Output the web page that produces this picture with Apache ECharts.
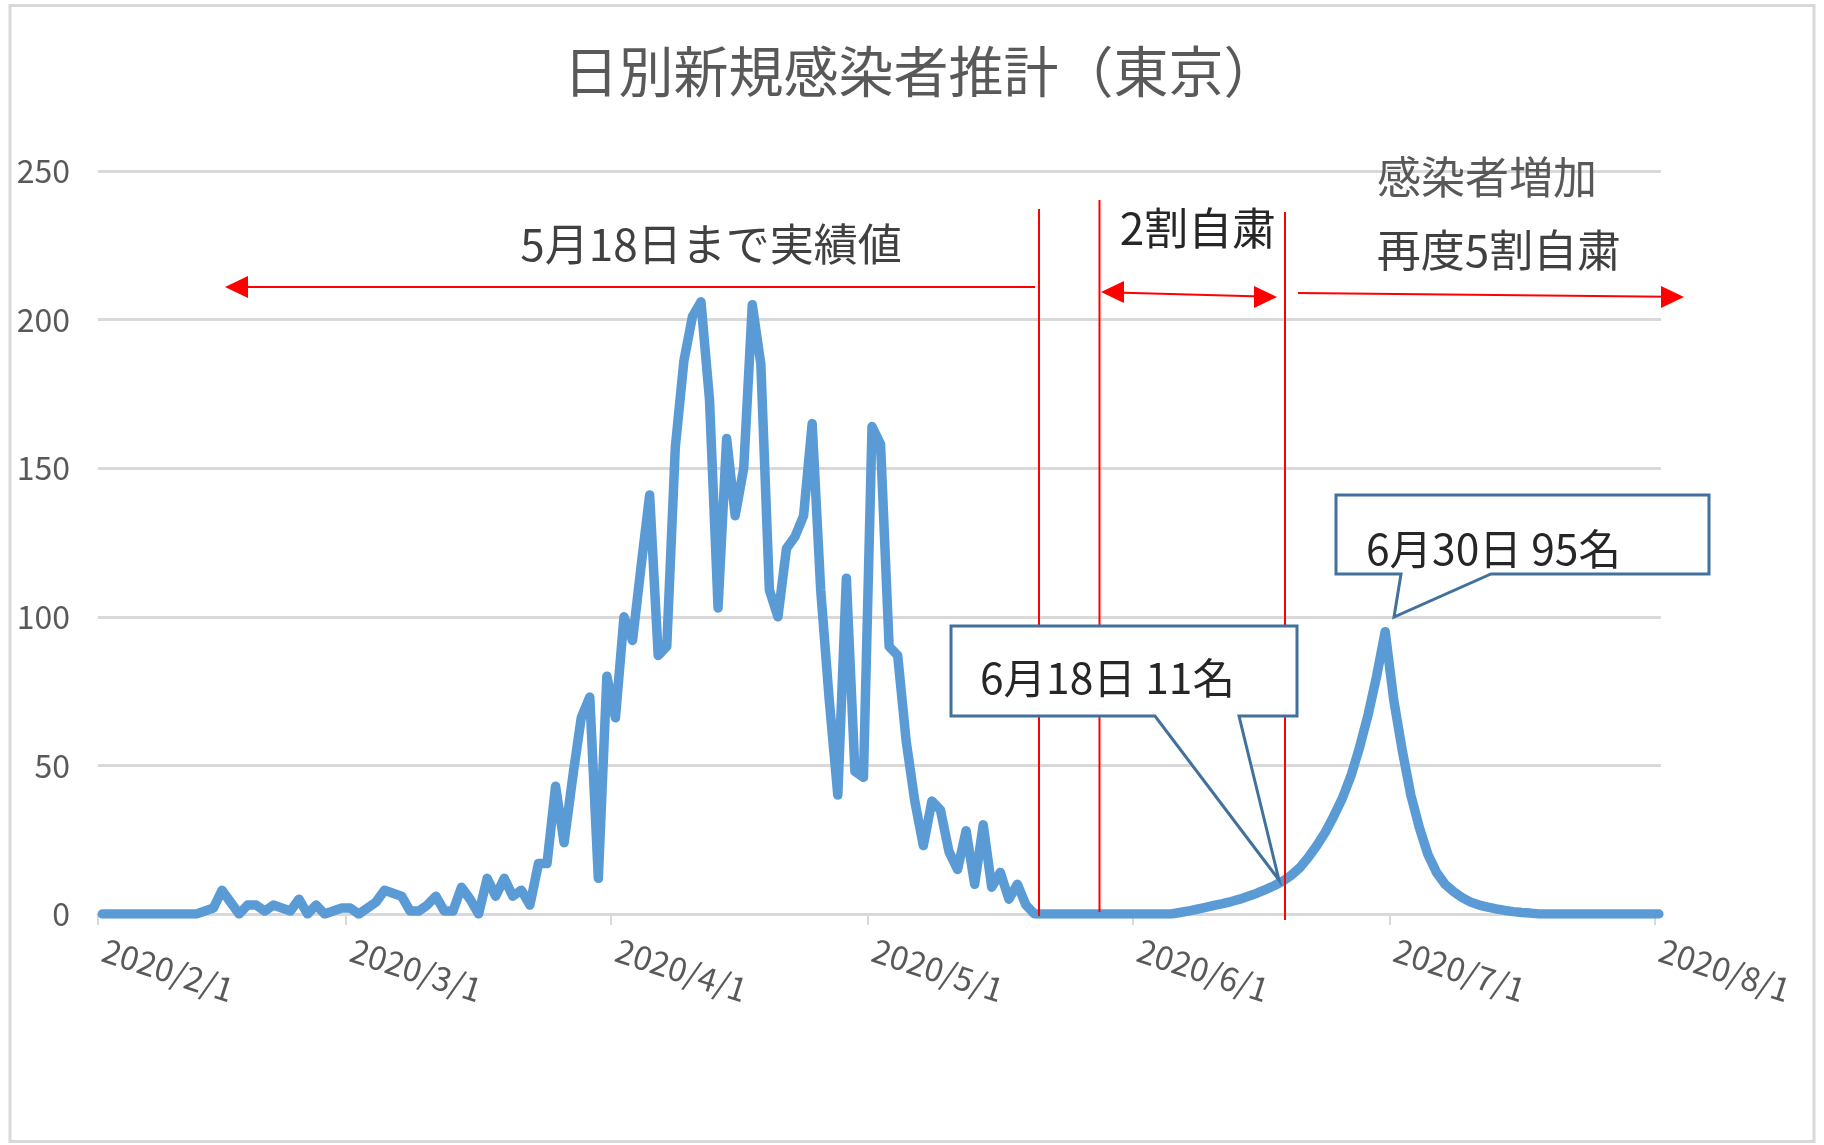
<!DOCTYPE html>
<html>
<head>
<meta charset="utf-8">
<script src="https://cdn.jsdelivr.net/npm/echarts@6/dist/echarts.min.js"></script>
<style>
html,body{margin:0;padding:0;background:#fff;}
#c{width:1824px;height:1145px;}
</style>
</head>
<body>
<div id="c"></div>
<script>
// ---- data (daily values from 2020/2/1 through 2020/8/1) ----
const startDay = [2020, 2, 1];
const dailyValues = [
  0,0,0,0,0,0,0,0,0,0,0,0,
  1,2,8,4,0,3,3,1,3,2,1,5,0,3,0,1,2,2,
  0,2,4,8,7,6,1,1,3,6,1,1,9,5,0,12,6,12,6,8,3,17,17,43,24,46,66,73,12,80,
  66,100,92,117,141,87,90,157,186,201,206,173,103,160,134,150,205,185,109,100,123,127,134,165,109,72,40,113,48,46,
  164,158,90,87,58,38,23,38,35,21,15,28,10,30,9,14,5,10,3,0,
  0,0,0,0,0,0,0,0,0,0,0,0,0,0,0,0,
  0.5,1,1.6,2.2,2.9,3.5,4.2,5,6,7,8.2,9.5,11,13,15.5,19,23,27.5,33,39,46.5,56,67,80,95,
  72,55,40,29,20,14,10,7.5,5.5,4,3,2.3,1.7,1.2,0.8,0.5,0.3,
  0,0,0,0,0,0,0,0,0,0,0,0,0,0,0
];
const xTickLabels = ['2020/2/1','2020/3/1','2020/4/1','2020/5/1','2020/6/1','2020/7/1','2020/8/1'];
const yTicks = [0, 50, 100, 150, 200, 250];
const titleText = '日別新規感染者推計（東京）';

// ---- build ----
const FONT = "'Noto Sans CJK JP','Noto Sans',sans-serif";
const DAY = 86400000;
const t0 = Date.UTC(startDay[0], startDay[1] - 1, startDay[2]);
const dayIndexOf = s => { const p = s.split('/').map(Number); return Math.round((Date.UTC(p[0], p[1] - 1, p[2]) - t0) / DAY); };
// each day occupies one unit on the axis; its point sits in the middle of the day
const seriesData = dailyValues.map((v, i) => [i + 0.5, v]);
const tickValues = xTickLabels.map(dayIndexOf);
const labelByDay = {};
xTickLabels.forEach((s, k) => { labelByDay[tickValues[k]] = s; });

const RED = '#ff0000';
function redLine(x1, y1, x2, y2) {
  return { type: 'line', z: 100, shape: { x1, y1, x2, y2 }, style: { stroke: RED, lineWidth: 2 } };
}
function head(tipX, tipY, dir) {
  const L = 23, H = 11;
  return { type: 'polygon', z: 100, shape: { points: [[tipX, tipY], [tipX - dir * L, tipY - H], [tipX - dir * L, tipY + H]] }, style: { fill: RED } };
}
function label(text, x, y, size, color, align) {
  return { type: 'text', z: 110, x, y, style: { text, fontSize: size, fontFamily: FONT, fill: color, align: align || 'center', verticalAlign: 'middle' } };
}
function callout(points) {
  return { type: 'polygon', z: 105, shape: { points }, style: { fill: '#fff', stroke: '#41719c', lineWidth: 3, lineJoin: 'miter' } };
}

const chart = echarts.init(document.getElementById('c'));
chart.setOption({
  animation: false,
  backgroundColor: '#fff',
  title: {
    text: titleText, left: 916, top: 39, textAlign: 'center',
    textStyle: { fontSize: 55, fontWeight: 'normal', color: '#595959', fontFamily: FONT }
  },
  grid: { left: 98, top: 171, width: 1563, height: 743, containLabel: false, outerBoundsMode: 'none' },
  xAxis: {
    type: 'value',
    min: 0,
    max: tickValues[tickValues.length - 1] + 0.75,
    axisLine: { show: true, onZero: false, lineStyle: { color: '#d9d9d9', width: 3 } },
    axisTick: { show: true, customValues: tickValues, length: 11, lineStyle: { color: '#d9d9d9', width: 2 } },
    axisLabel: {
      customValues: tickValues, formatter: v => labelByDay[Math.round(v)] || '',
      rotate: -18, margin: 33, fontSize: 33, color: '#595959', fontFamily: FONT,
      padding: [0, 0, 0, 6], showMinLabel: true, showMaxLabel: true
    },
    splitLine: { show: false }
  },
  yAxis: {
    type: 'value', min: yTicks[0], max: yTicks[yTicks.length - 1], interval: yTicks[1] - yTicks[0],
    axisLine: { show: false }, axisTick: { show: false },
    axisLabel: { fontSize: 32, color: '#595959', margin: 28, fontFamily: FONT },
    splitLine: { lineStyle: { color: '#d9d9d9', width: 3 } }
  },
  series: [{
    type: 'line', data: seriesData, showSymbol: false, symbol: 'none', z: 2,
    lineStyle: { color: '#5b9bd5', width: 9.5, join: 'round', cap: 'round' }
  }],
  graphic: [
    { type: 'rect', z: 1, shape: { x: 10, y: 5.5, width: 1804, height: 1136 }, style: { fill: 'none', stroke: '#d9d9d9', lineWidth: 3 } },
    redLine(1039, 209, 1039, 916),
    redLine(1099.5, 200, 1099.5, 912),
    redLine(1285, 212, 1285, 920),
    redLine(1035, 287, 240, 287), head(225, 287, -1),
    redLine(1115, 292.4, 1262, 296.6), head(1101, 292, -1), head(1277, 297, 1),
    redLine(1298, 293, 1668, 296.8), head(1684, 297, 1),
    label('5月18日まで実績値', 711, 244, 44, '#404040'),
    label('2割自粛', 1198, 228, 44, '#262626'),
    label('感染者増加', 1487, 177, 44, '#595959'),
    label('再度5割自粛', 1499, 250, 44, '#404040'),
    callout([[951, 626], [1297, 626], [1297, 716], [1239, 716], [1279, 880], [1155, 716], [951, 716]]),
    label('6月18日 11名', 980, 678, 42.5, '#262626', 'left'),
    callout([[1336, 495], [1709, 495], [1709, 574], [1491, 574], [1394, 617], [1401, 574], [1336, 574]]),
    label('6月30日 95名', 1366, 549, 42.5, '#262626', 'left')
  ]
});
</script>
</body>
</html>
